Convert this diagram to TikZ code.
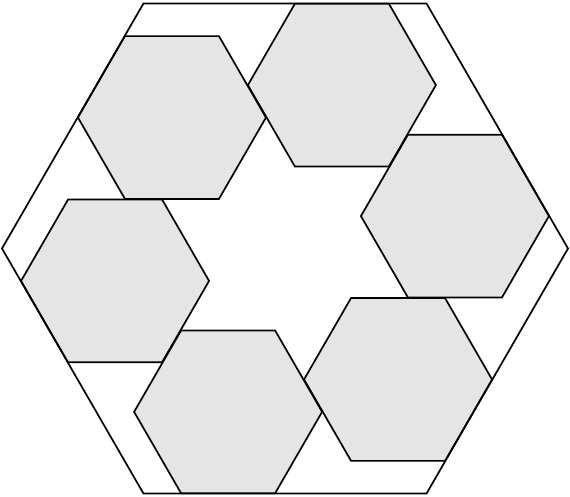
\documentclass[tikz,border=0pt]{standalone}
\definecolor{hexgray}{RGB}{229,229,229}
\begin{document}
\begin{tikzpicture}[x=1pt,y=1pt,
  hexline/.style={line width=1.7pt, line join=miter, draw=black},
  smallhex/.style={hexline, fill=hexgray}]
\useasboundingbox (0,0) rectangle (570,497);
\coordinate (O) at (285,248.5);
\draw[hexline, shift={(O)}] (0:283) -- (60:283) -- (120:283) -- (180:283) -- (240:283) -- (300:283) -- cycle;
\foreach \a [count=\i] in {10.8,70.8,130.8,190.8,250.8,310.8}{
  \coordinate (c\i) at ([shift={(\a:173)}]O);
  \filldraw[smallhex, shift={(c\i)}] (0:94) -- (60:94) -- (120:94) -- (180:94) -- (240:94) -- (300:94) -- cycle;
}
\end{tikzpicture}
\end{document}
